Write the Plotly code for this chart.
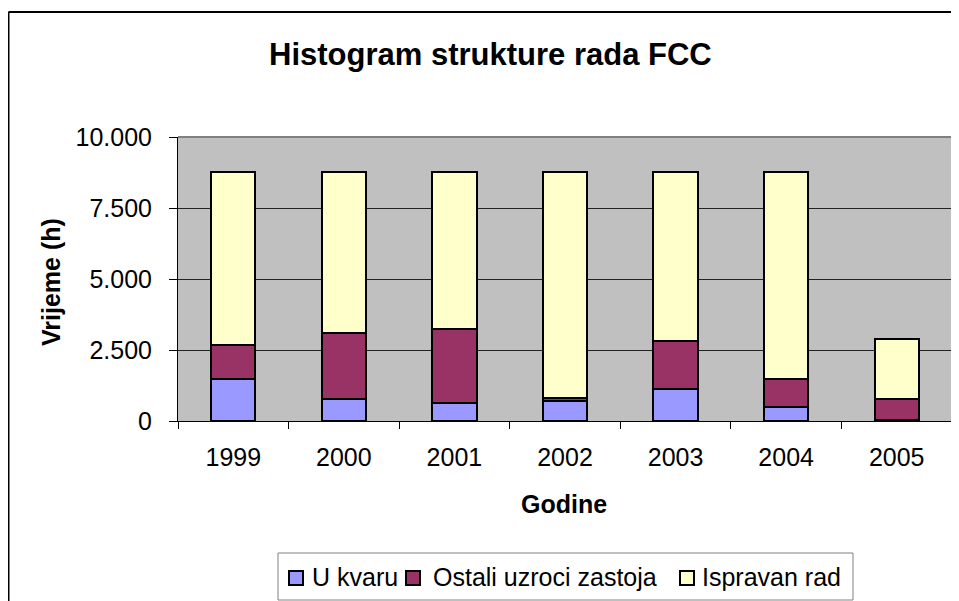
import plotly.graph_objects as go

years = ["1999", "2000", "2001", "2002", "2003", "2004", "2005"]
u_kvaru = [1480, 775, 625, 690, 1125, 490, 40]
ostali_uzroci = [1195, 2335, 2605, 110, 1690, 1000, 750]
ispravan_rad = [6085, 5672, 5532, 7960, 5944, 7292, 2098]

series_names = ["U kvaru", "Ostali uzroci zastoja", "Ispravan rad"]
series_colors = ["#9999FF", "#993366", "#FFFFCC"]

y_tickvals = [0, 2500, 5000, 7500, 10000]
y_ticktext = ["0", "2.500", "5.000", "7.500", "10.000"]

# The page body adds an 8px margin; work in reference pixel coords and shift.
OFF = 8
W, H = 959 - OFF, 601 - OFF
L, R, T, B = 170, 7, 129, 180
pw, ph = W - L - R, H - T - B


def px_x(x):
    return (x - OFF - L) / pw


def px_y(y):
    return (H - B - (y - OFF)) / ph


FONT = "Liberation Sans, Arial, sans-serif"
line = dict(color="black", width=2)

fig = go.Figure()
for vals, name, col in zip([u_kvaru, ostali_uzroci, ispravan_rad], series_names, series_colors):
    fig.add_trace(go.Bar(x=years, y=vals, name=name, showlegend=False,
                         marker=dict(color=col, line=line)))

shapes = [
    # outer chart frame (only top and left edges are visible in the picture)
    dict(type="line", xref="paper", yref="paper", x0=px_x(8.5), x1=px_x(8.5),
         y0=px_y(700), y1=px_y(12), line=dict(color="black", width=2), layer="below"),
    dict(type="line", xref="paper", yref="paper", x0=px_x(8.5), x1=px_x(1100),
         y0=px_y(12), y1=px_y(12), line=dict(color="black", width=2), layer="below"),
    dict(type="line", xref="paper", yref="paper", x0=0, x1=1, y0=1, y1=1,
         line=dict(color="#808080", width=2)),
    dict(type="line", xref="paper", yref="paper", x0=1, x1=1, y0=0, y1=1,
         line=dict(color="#808080", width=2)),
    # legend box
    dict(type="rect", xref="paper", yref="paper", x0=px_x(278), x1=px_x(853),
         y0=px_y(600), y1=px_y(553), line=dict(color="#808080", width=1),
         fillcolor="white"),
]

annotations = [
    dict(text="<b>Histogram strukture rada FCC</b>", x=px_x(490), y=px_y(54),
         xref="paper", yref="paper", showarrow=False, xanchor="center", yanchor="middle",
         font=dict(size=31, family=FONT)),
    dict(text="<b>Godine</b>", x=px_x(564), y=px_y(504), xref="paper", yref="paper",
         showarrow=False, xanchor="center", yanchor="middle", font=dict(size=25, family=FONT)),
    dict(text="<b>Vrijeme (h)</b>", x=px_x(51), y=px_y(282), xref="paper", yref="paper",
         showarrow=False, xanchor="center", yanchor="middle", textangle=-90,
         font=dict(size=25, family=FONT)),
]

# manual legend entries (square + label)
sq_x = [289, 406, 680]
txt_x = [310, 431, 700]
for sx, tx, name, col in zip(sq_x, txt_x, series_names, series_colors):
    shapes.append(dict(type="rect", xref="paper", yref="paper", x0=px_x(sx), x1=px_x(sx + 14),
                       y0=px_y(585), y1=px_y(571), fillcolor=col,
                       line=dict(color="black", width=2)))
    annotations.append(dict(text=name, x=px_x(tx), y=px_y(577), xref="paper", yref="paper",
                            showarrow=False, xanchor="left", yanchor="middle",
                            font=dict(size=25, family=FONT)))

fig.update_layout(
    width=W, height=H,
    margin=dict(l=L, r=R, t=T, b=B, autoexpand=False),
    barmode="stack", bargap=0.6,
    paper_bgcolor="white", plot_bgcolor="#C0C0C0",
    font=dict(family=FONT, size=25, color="black"),
    showlegend=False,
    xaxis=dict(type="category", tickson="boundaries", ticks="outside", ticklen=7,
               tickcolor="black", showline=True, linecolor="black", linewidth=1,
               showgrid=False, ticklabelstandoff=14, tickfont=dict(size=25)),
    yaxis=dict(range=[0, 10000], tickvals=y_tickvals, ticktext=y_ticktext,
               ticks="outside", ticklen=8, tickcolor="black", showline=True,
               linecolor="black", linewidth=1, showgrid=True, gridcolor="#222222",
               gridwidth=1, zeroline=False, ticklabelstandoff=12, tickfont=dict(size=25)),
    annotations=annotations,
    shapes=shapes,
)

fig.write_html("out.html")
